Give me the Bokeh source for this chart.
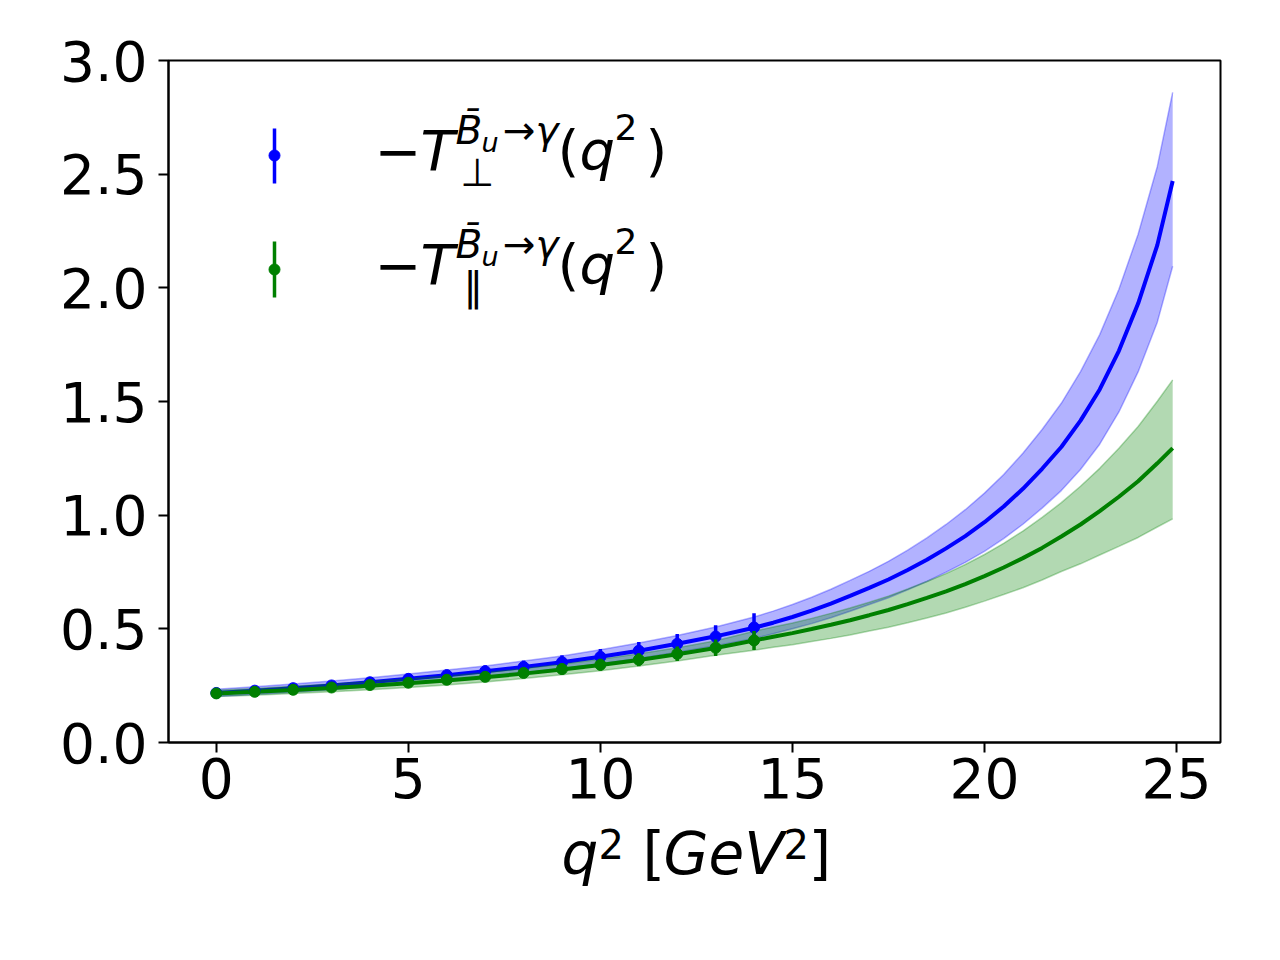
from bokeh.plotting import figure
from bokeh.layouts import column
from bokeh.models import Range1d, FixedTicker, PrintfTickFormatter, Label
from bokeh.embed import file_html
from bokeh.resources import INLINE

# ---------------- data ----------------
q_curve = [0, 1, 2, 3, 4, 5, 6, 7, 8, 9, 10, 11, 12, 13,
           14, 14.5, 15, 15.5, 16, 16.5, 17, 17.5, 18, 18.5, 19, 19.5,
           20, 20.5, 21, 21.5, 22, 22.5, 23, 23.5, 24, 24.5, 24.9]

perp_central = [0.218, 0.228, 0.239, 0.251, 0.265, 0.280, 0.296, 0.313, 0.332, 0.353,
                0.377, 0.404, 0.434, 0.467,
                0.505, 0.527, 0.552, 0.580, 0.611, 0.645, 0.680, 0.717, 0.759, 0.804,
                0.854, 0.908, 0.969, 1.038, 1.116, 1.204, 1.300, 1.416, 1.553, 1.723,
                1.931, 2.188, 2.470]
perp_upper = [0.234, 0.245, 0.257, 0.270, 0.285, 0.301, 0.319, 0.337, 0.358, 0.381,
              0.408, 0.438, 0.471, 0.508,
              0.552, 0.578, 0.607, 0.639, 0.674, 0.713, 0.753, 0.797, 0.846, 0.900,
              0.959, 1.024, 1.097, 1.179, 1.272, 1.377, 1.492, 1.631, 1.794, 1.994,
              2.236, 2.534, 2.860]
perp_lower = [0.202, 0.211, 0.221, 0.232, 0.245, 0.259, 0.273, 0.289, 0.306, 0.325,
              0.346, 0.370, 0.397, 0.426,
              0.458, 0.478, 0.500, 0.523, 0.549, 0.577, 0.607, 0.637, 0.672, 0.708,
              0.749, 0.792, 0.841, 0.897, 0.960, 1.031, 1.108, 1.201, 1.312, 1.454,
              1.630, 1.849, 2.095]

par_central = [0.216, 0.223, 0.231, 0.240, 0.250, 0.261, 0.273, 0.287, 0.303, 0.321,
               0.341, 0.363, 0.388, 0.416,
               0.449, 0.465, 0.481, 0.499, 0.518, 0.538, 0.560, 0.583, 0.609, 0.636,
               0.665, 0.697, 0.732, 0.770, 0.811, 0.856, 0.906, 0.959, 1.018, 1.081,
               1.149, 1.228, 1.295]
par_upper = [0.230, 0.238, 0.247, 0.257, 0.268, 0.280, 0.293, 0.308, 0.325, 0.344,
             0.366, 0.390, 0.417, 0.448,
             0.489, 0.508, 0.526, 0.546, 0.568, 0.592, 0.617, 0.644, 0.675, 0.708,
             0.743, 0.783, 0.827, 0.876, 0.930, 0.990, 1.055, 1.127, 1.206, 1.294,
             1.390, 1.501, 1.595]
par_lower = [0.202, 0.208, 0.215, 0.223, 0.232, 0.242, 0.253, 0.266, 0.281, 0.298,
             0.316, 0.336, 0.359, 0.384,
             0.406, 0.419, 0.430, 0.444, 0.458, 0.473, 0.490, 0.507, 0.527, 0.548,
             0.570, 0.595, 0.622, 0.651, 0.681, 0.715, 0.752, 0.786, 0.825, 0.863,
             0.902, 0.948, 0.984]

q_points = [0, 1, 2, 3, 4, 5, 6, 7, 8, 9, 10, 11, 12, 13, 14]
perp_points = [0.218, 0.228, 0.239, 0.251, 0.265, 0.280, 0.296, 0.313, 0.332, 0.353,
               0.377, 0.404, 0.434, 0.466, 0.506]
perp_err = [0.010, 0.013, 0.016, 0.019, 0.021, 0.023, 0.025, 0.027, 0.029, 0.031,
            0.034, 0.038, 0.043, 0.050, 0.062]
par_points = [0.216, 0.223, 0.232, 0.242, 0.253, 0.263, 0.276, 0.289, 0.306, 0.323,
              0.342, 0.364, 0.390, 0.417, 0.449]
par_err = [0.008, 0.009, 0.010, 0.011, 0.012, 0.014, 0.016, 0.018, 0.021, 0.024,
           0.026, 0.029, 0.032, 0.036, 0.042]

x_ticks = [0, 5, 10, 15, 20, 25]
y_ticks = [0.0, 0.5, 1.0, 1.5, 2.0, 2.5, 3.0]

# ---------------- layout ----------------
X0, X1 = -1.245, 26.145
Y0, Y1 = 0.0, 3.0
FL, FT, FW, FH = 168, 60, 1052, 682   # frame position in picture pixels
W = 1264
H1 = 821                              # main figure height
H2 = 944 - H1                         # strip below holding the x-axis title

def dx(px):
    return X0 + (px - FL) / FW * (X1 - X0)

def dy(py):
    return Y0 + (FT + FH - py) / FH * (Y1 - Y0)

FONT = "DejaVu Sans"
BASE_SHIFT = 0.41   # compensation (in em) for the label baseline placement

p = figure(width=W, height=H1, x_range=Range1d(X0, X1), y_range=Range1d(Y0, Y1),
           output_backend="svg", toolbar_location=None,
           min_border_left=FL, min_border_right=W - FL - FW,
           min_border_top=FT, min_border_bottom=H1 - FT - FH)
p.background_fill_color = "white"
p.border_fill_color = "white"
p.outline_line_color = "black"
p.outline_line_width = 2
p.outline_line_alpha = 1.0
p.xgrid.visible = False
p.ygrid.visible = False

p.xaxis.ticker = FixedTicker(ticks=x_ticks)
p.yaxis.ticker = FixedTicker(ticks=y_ticks)
p.yaxis.formatter = PrintfTickFormatter(format="%.1f")
for ax in (p.xaxis, p.yaxis):
    ax.axis_line_width = 2
    ax.axis_line_color = "black"
    ax.major_tick_line_width = 2
    ax.major_tick_line_color = "black"
    ax.major_tick_out = 10
    ax.major_tick_in = 0
    ax.minor_tick_out = 0
    ax.minor_tick_in = 0
    ax.major_label_text_font = FONT
    ax.major_label_text_font_size = "55px"
    ax.major_label_text_color = "black"
p.yaxis.major_label_standoff = 11
p.xaxis.major_label_standoff = 5

# ---------------- bands and curves ----------------
BLUE = "#0000ff"
GREEN = "#008000"

p.varea(x=q_curve, y1=perp_lower, y2=perp_upper, fill_color=BLUE, fill_alpha=0.3)
p.line(q_curve, perp_upper, line_color=BLUE, line_alpha=0.3, line_width=1.5)
p.line(q_curve, perp_lower, line_color=BLUE, line_alpha=0.3, line_width=1.5)
p.line(q_curve, perp_central, line_color=BLUE, line_width=4)

p.varea(x=q_curve, y1=par_lower, y2=par_upper, fill_color=GREEN, fill_alpha=0.3)
p.line(q_curve, par_upper, line_color=GREEN, line_alpha=0.3, line_width=1.5)
p.line(q_curve, par_lower, line_color=GREEN, line_alpha=0.3, line_width=1.5)
p.line(q_curve, par_central, line_color=GREEN, line_width=4)

# ---------------- error-bar points ----------------
def errorbars(ys, errs, color):
    lo = [y - e for y, e in zip(ys, errs)]
    hi = [y + e for y, e in zip(ys, errs)]
    p.segment(x0=q_points, y0=lo, x1=q_points, y1=hi, line_color=color, line_width=3.5)
    p.scatter(q_points, ys, size=11, fill_color=color, line_color=color)

errorbars(perp_points, perp_err, BLUE)
errorbars(par_points, par_err, GREEN)

# ---------------- legend (hand-built) ----------------
for color, (top, mid, bot) in ((BLUE, (128, 155, 183)), (GREEN, (241, 269, 297))):
    p.segment(x0=[dx(274)], y0=[dy(top)], x1=[dx(274)], y1=[dy(bot)],
              line_color=color, line_width=3.5)
    p.scatter([dx(274)], [dy(mid)], size=11, fill_color=color, line_color=color)

def piece(fig, ymap, text, px, py, size, italic):
    fig.add_layout(Label(x=dx(px), y=ymap(py - BASE_SHIFT * size), text=text,
                         text_font=FONT, text_font_size=f"{size}px",
                         text_font_style="italic" if italic else "normal",
                         text_color="black", text_align="left",
                         text_baseline="alphabetic"))

for shift, sub in ((0, "\u22a5"), (114, "\u2016")):
    piece(p, dy, "\u2212", 374, 173 + shift, 56, False)
    piece(p, dy, "T", 420, 173 + shift, 56, True)
    piece(p, dy, "B\u0304", 455, 146 + shift, 39, True)
    piece(p, dy, "u", 481, 153 + shift, 27, True)
    piece(p, dy, "\u2192", 502, 146 + shift, 39, False)
    piece(p, dy, "\u03b3", 535, 146 + shift, 39, True)
    piece(p, dy, sub, 460 if shift == 0 else 463, 188 + shift, 39, False)
    piece(p, dy, "(", 557, 173 + shift, 56, False)
    piece(p, dy, "q", 579, 173 + shift, 56, True)
    piece(p, dy, "2", 614, 141 + shift, 36, False)
    piece(p, dy, ")", 645, 173 + shift, 56, False)

# ---------------- x-axis title strip ----------------
p2 = figure(width=W, height=H2, x_range=p.x_range, y_range=Range1d(0, H2),
            output_backend="svg", toolbar_location=None,
            x_axis_location=None, y_axis_location=None,
            min_border_left=FL, min_border_right=W - FL - FW,
            min_border_top=0, min_border_bottom=0)
p2.outline_line_color = None
p2.xgrid.visible = False
p2.ygrid.visible = False
p2.background_fill_color = "white"
p2.border_fill_color = "white"

def dy2(py):
    return H2 - (py - H1)

piece(p2, dy2, "q", 561, 877, 58, True)
piece(p2, dy2, "2", 598, 860, 40, False)
piece(p2, dy2, "[", 642, 877, 58, False)
piece(p2, dy2, "GeV", 663, 877, 58, True)
piece(p2, dy2, "2", 783, 860, 40, False)
piece(p2, dy2, "]", 808, 877, 58, False)

open("out.html", "w").write(file_html(column(p, p2), INLINE))
